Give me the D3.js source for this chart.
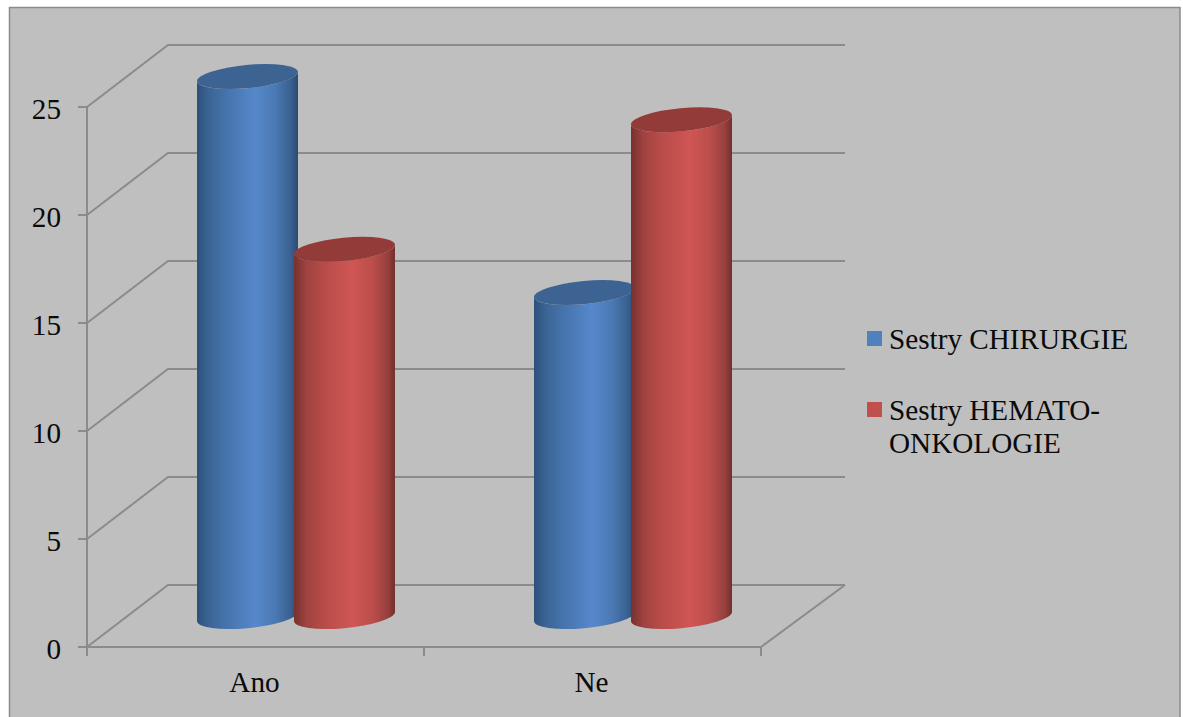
<!DOCTYPE html>
<html>
<head>
<meta charset="utf-8">
<script src="https://cdn.jsdelivr.net/npm/d3@7"></script>
<style>
  html, body { margin: 0; padding: 0; background: #fff; }
  svg { display: block; }
  text { font-family: "Liberation Serif", serif; fill: #0a0a0a; }
</style>
</head>
<body>
<svg id="chart" width="1183" height="717"></svg>
<script>
const categories = ["Ano", "Ne"];
const seriesNames = ["Sestry CHIRURGIE", "Sestry HEMATO-\nONKOLOGIE"];
const chirurgie = [25, 15];
const hematoOnkologie = [17, 23];
const yTicks = [0, 5, 10, 15, 20, 25];

const width = 1183, height = 717;
const lineColor = "#8b8b8b";
const labelSize = 29.2;

// Oblique projection: the floor recedes up and to the right.
const depthX = 81, depthY = -62;
const y = d3.scaleLinear().domain([0, 25]).range([647, 107]);
const x = d3.scaleBand().domain(categories).range([87, 761]);
const series = d3.scaleBand().domain(d3.range(seriesNames.length)).range([-97, 97]);

const svg = d3.select("#chart");
const defs = svg.append("defs");

const palettes = [
  { id: "cylBlue", top: "#3c6392", swatch: "#4f81bd",
    stops: [[0, "#2c5079"], [0.12, "#3c6596"], [0.3, "#4674ad"], [0.58, "#5688cb"], [0.78, "#4a78b2"], [0.93, "#39608f"], [1, "#2b4a70"]] },
  { id: "cylRed", top: "#933b38", swatch: "#c0504d",
    stops: [[0, "#77312f"], [0.12, "#9f4240"], [0.3, "#b84c49"], [0.58, "#cf5654"], [0.78, "#bb4e4b"], [0.93, "#96403d"], [1, "#732e2c"]] }
];
palettes.forEach(p => {
  const g = defs.append("linearGradient").attr("id", p.id)
    .attr("x1", 0).attr("x2", 1).attr("y1", 0).attr("y2", 0);
  p.stops.forEach(s => g.append("stop").attr("offset", s[0]).attr("stop-color", s[1]));
});

// Chart area with its frame; the lower edge runs off the page.
svg.append("rect").attr("x", 9.5).attr("y", 7.5)
  .attr("width", 1170.5).attr("height", 730)
  .attr("fill", "#bfbfbf").attr("stroke", lineColor).attr("stroke-width", 1.5);

// Back wall gridlines and their diagonal returns to the value axis.
const grid = svg.append("g").attr("fill", "none").attr("stroke", lineColor).attr("stroke-width", 2);
const gridPath = d3.path();
yTicks.forEach(t => {
  gridPath.moveTo(x.range()[0], y(t));
  gridPath.lineTo(x.range()[0] + depthX, y(t) + depthY);
  gridPath.lineTo(x.range()[1] + depthX + 3, y(t) + depthY);
});
gridPath.moveTo(x.range()[1], y(0));
gridPath.lineTo(x.range()[1] + depthX + 3, y(0) + depthY);
grid.append("path").attr("d", gridPath.toString());

// Value axis.
const yAxis = d3.axisLeft(y).tickValues(yTicks).tickSize(9).tickPadding(17).offset(0);
const yG = svg.append("g").attr("transform", `translate(${x.range()[0]},0)`).call(yAxis);
yG.select(".domain").remove();
yG.append("line").attr("x1", 0).attr("x2", 0).attr("y1", y(25)).attr("y2", y(0) + 9)
  .attr("stroke", lineColor).attr("stroke-width", 2);
yG.selectAll(".tick line").attr("stroke", lineColor).attr("stroke-width", 2);
yG.selectAll(".tick text").attr("font-size", labelSize).attr("dy", "0.42em")
  .attr("font-family", "Liberation Serif").attr("fill", "#0a0a0a");

// Category axis, with ticks at the band boundaries.
const xG = svg.append("g");
xG.append("line").attr("x1", x.range()[0]).attr("x2", x.range()[1])
  .attr("y1", y(0)).attr("y2", y(0)).attr("stroke", lineColor).attr("stroke-width", 2);
const bounds = [x.range()[0], ...categories.map(c => x(c) + x.bandwidth())];
xG.selectAll("line.tick").data(bounds).join("line").attr("class", "tick")
  .attr("x1", d => d).attr("x2", d => d).attr("y1", y(0)).attr("y2", y(0) + 9)
  .attr("stroke", lineColor).attr("stroke-width", 2);
xG.selectAll("text").data(categories).join("text")
  .attr("x", d => x(d) + x.bandwidth() / 2 - 1).attr("y", 692)
  .attr("text-anchor", "middle").attr("font-size", labelSize).text(d => d);

// Cylinders: tilted elliptical caps joined at their horizontal extremes.
const rx = 50.7, ry = 11.6, tilt = -5.4;
const t = tilt * Math.PI / 180;
const halfW = Math.sqrt(rx * rx * Math.cos(t) ** 2 + ry * ry * Math.sin(t) ** 2);
const tipY = (rx * rx - ry * ry) * Math.sin(t) * Math.cos(t) / halfW;

const base = y(0) + depthY / 2 + 0.5;
const toHeight = v => y(0) - y(v);
const values = [chirurgie, hematoOnkologie];

categories.forEach((cat, ci) => {
  const cx0 = x(cat) + x.bandwidth() / 2 + depthX / 2;
  values.forEach((vals, si) => {
    const cx = cx0 + series(si) + series.bandwidth() / 2;
    const topY = base - toHeight(vals[ci]);
    const p = palettes[si];
    svg.append("path")
      .attr("d", `M${cx - halfW},${topY - tipY}` +
        `L${cx - halfW},${base - tipY}` +
        `A${rx},${ry} ${tilt} 0 0 ${cx + halfW},${base + tipY}` +
        `L${cx + halfW},${topY + tipY}` +
        `A${rx},${ry} ${tilt} 0 1 ${cx - halfW},${topY - tipY}Z`)
      .attr("fill", `url(#${p.id})`);
    svg.append("ellipse")
      .attr("rx", rx).attr("ry", ry)
      .attr("transform", `translate(${cx},${topY}) rotate(${tilt})`)
      .attr("fill", p.top);
  });
});

// Legend.
const legendRows = [331, 402];
const legend = svg.append("g");
seriesNames.forEach((name, i) => {
  legend.append("rect").attr("x", 867).attr("y", legendRows[i])
    .attr("width", 15).attr("height", 15).attr("fill", palettes[i].swatch);
  const label = legend.append("text").attr("x", 889).attr("font-size", labelSize);
  name.split("\n").forEach((line, li) => {
    label.append("tspan").attr("x", 889).attr("y", legendRows[i] + 18 + li * 33).text(line);
  });
});
</script>
</body>
</html>
